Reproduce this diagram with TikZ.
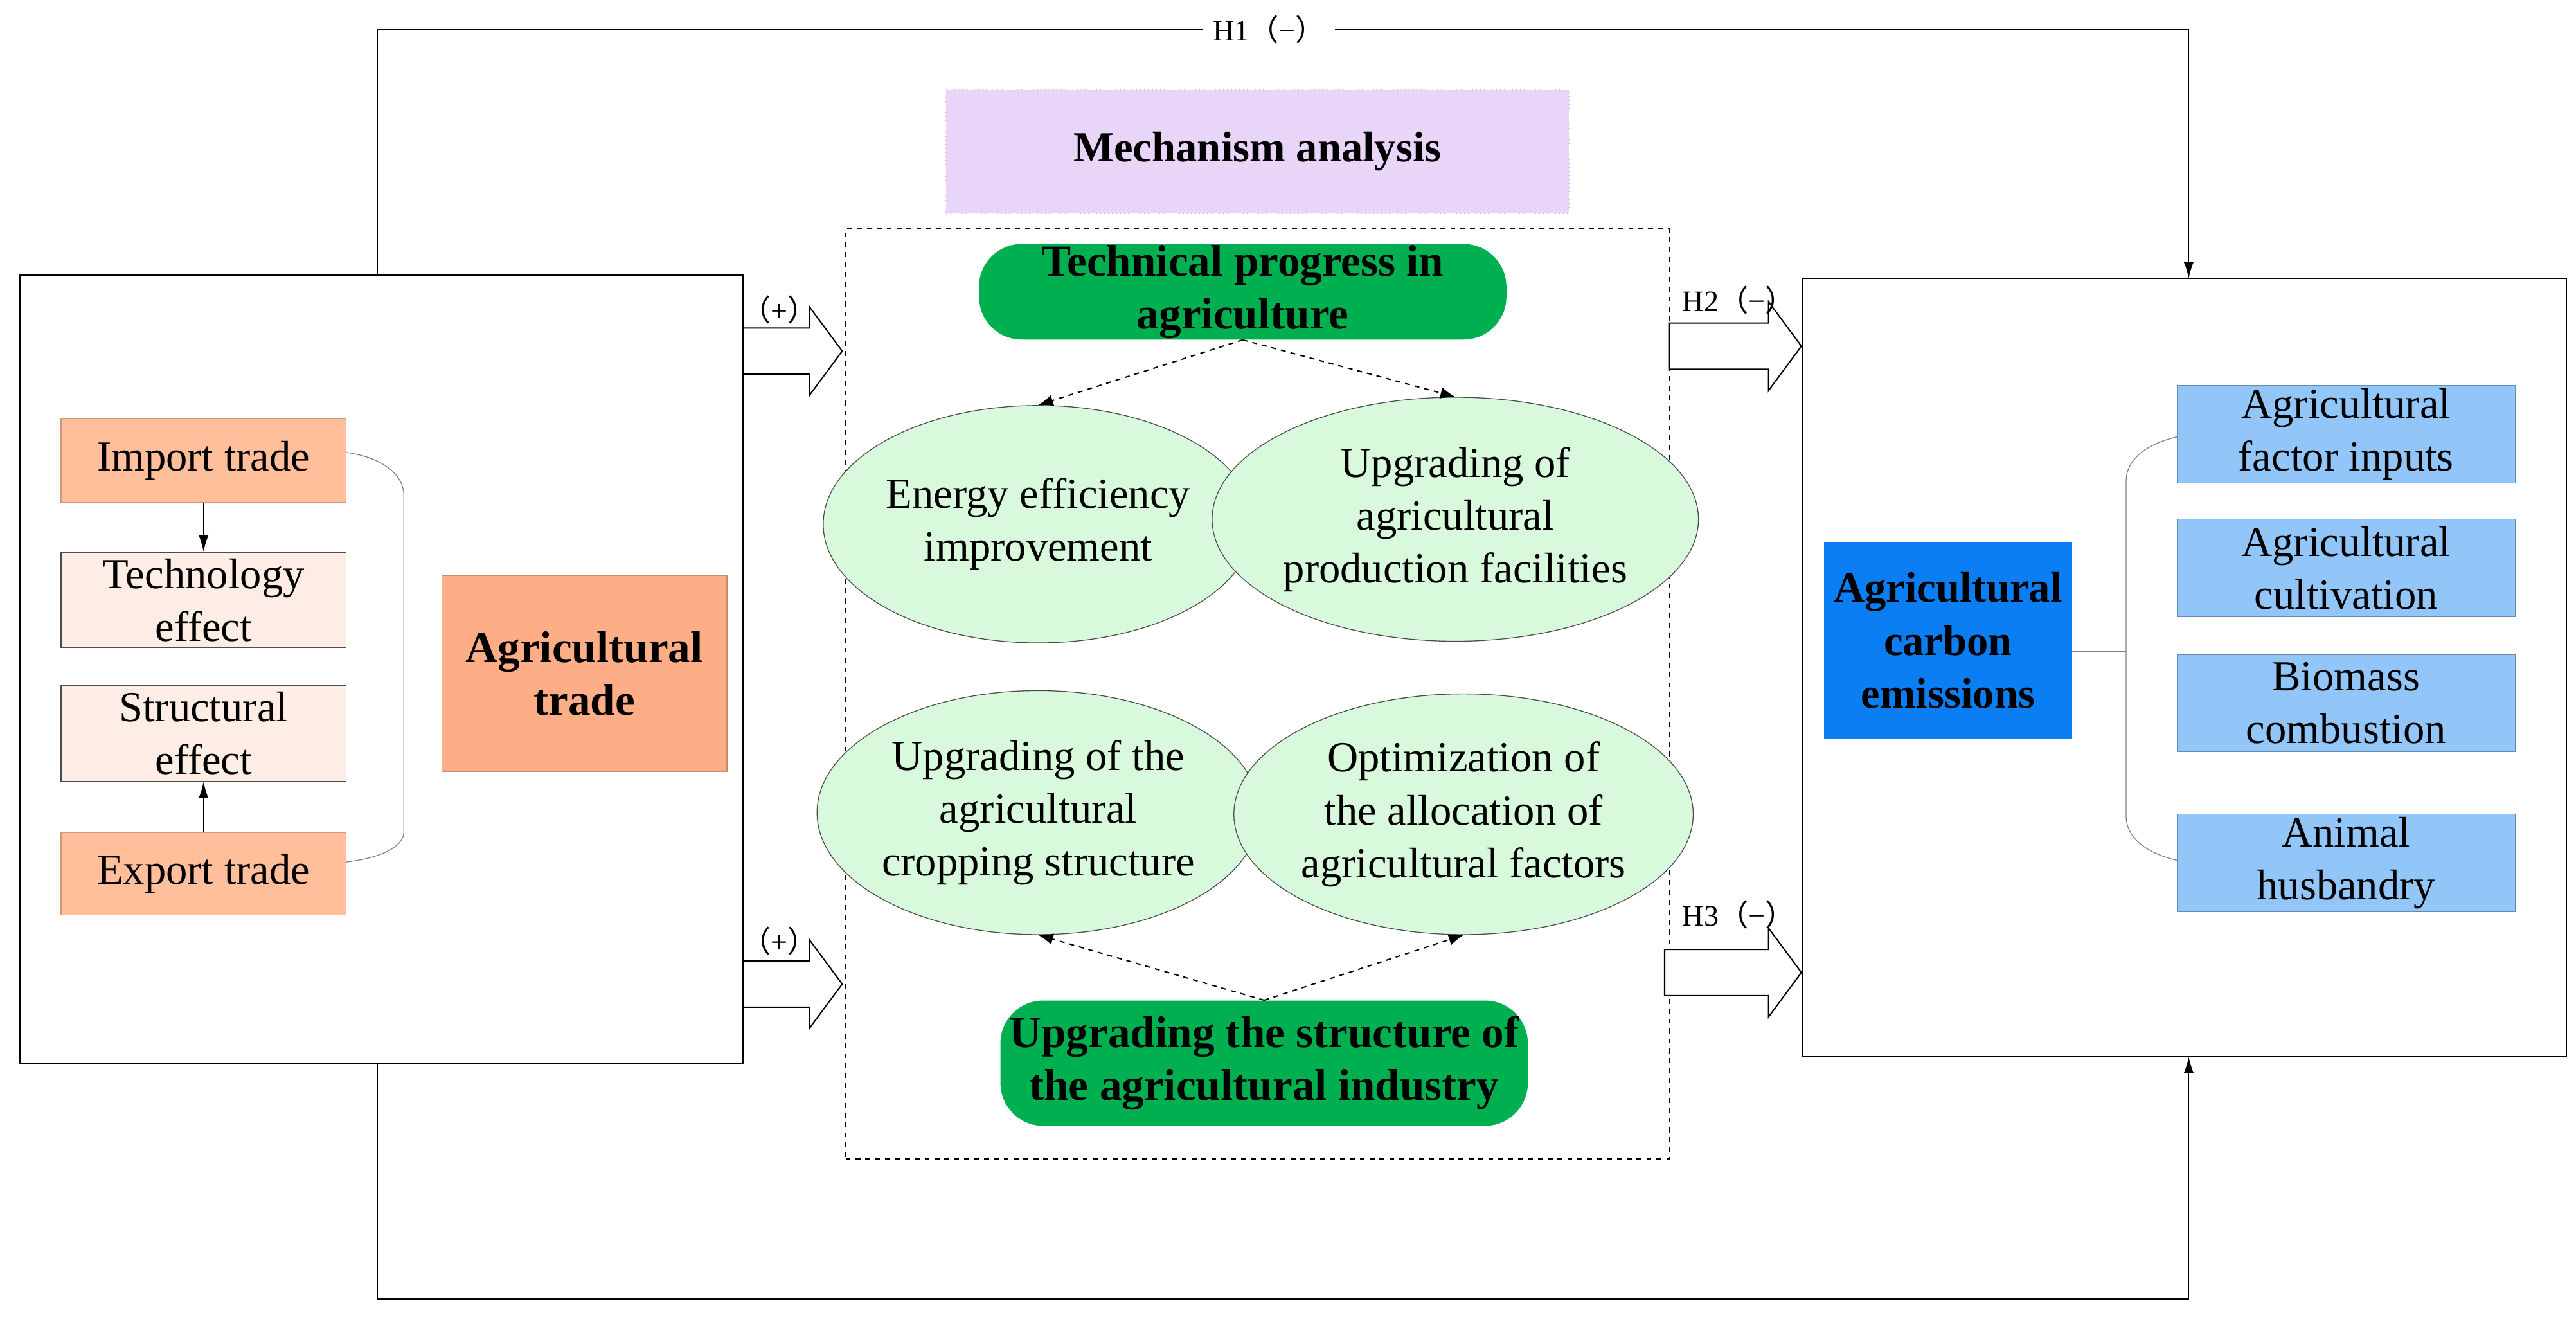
\documentclass[tikz,border=0pt]{standalone}
\usepackage{fontspec}
\setmainfont{Liberation Serif}
\newfontfamily\cjk{Noto Sans CJK SC}
\usetikzlibrary{arrows.meta,shapes.geometric}
\definecolor{sal}{HTML}{FFBF9A}
\definecolor{salL}{HTML}{FDEDE4}
\definecolor{salD}{HTML}{FDAE86}
\definecolor{gr}{HTML}{00B050}
\definecolor{grL}{HTML}{D9F9DD}
\definecolor{lil}{HTML}{E8D5F8}
\definecolor{bl}{HTML}{0A7EF2}
\definecolor{blL}{HTML}{92C6F8}
\newcommand{\hollowarr}[3]{\draw[line width=0.8pt,fill=white] (#1,#3-14)--(#2-20,#3-14)--(#2-20,#3-27)--(#2,#3)--(#2-20,#3+27)--(#2-20,#3+14)--(#1,#3+14)--cycle;}
\newcommand{\lp}{{\cjk（}}
\newcommand{\rp}{{\cjk）}}
\begin{document}
\begin{tikzpicture}[x=1pt,y=-1pt,
  txt/.style={font=\fontsize{26}{32}\selectfont,align=center,inner sep=0pt},
  box/.style={txt,draw=black!70,line width=0.5pt,rectangle},
  ell/.style={txt,ellipse,draw=black!70,line width=0.5pt,fill=grL},
  gbox/.style={txt,rounded corners=26pt,fill=gr,font=\fontsize{27}{32}\selectfont\bfseries},
  lab/.style={font=\fontsize{18}{20}\selectfont,inner sep=1pt},
  darr/.style={dashed,line width=0.8pt,-{Latex[length=9pt,width=7pt]}},
  sarr/.style={line width=0.8pt,-{Latex[length=10pt,width=6pt]}},
  brk/.style={gray,line width=0.5pt}]
\useasboundingbox (0,0) rectangle (1563,800);
% outer boxes
\node[draw,line width=0.8pt,minimum width=439pt,minimum height=478pt,inner sep=0pt] (L) at (231.5,406) {};
\node[draw,line width=0.8pt,minimum width=463pt,minimum height=472pt,inner sep=0pt] (R) at (1325.5,405) {};
\node[draw,dashed,line width=0.8pt,minimum width=500pt,minimum height=564pt,inner sep=0pt] (M) at (763,421) {};
% H1 / bottom paths
\coordinate (t1) at (229,167); \coordinate (t2) at (1328,169);
\draw[sarr] (t1) -- (229,18) -- (1328,18) -- (t2);
\node[lab,fill=white,inner sep=6pt] (h1) at (770,18) {H1\lp−\rp};
\coordinate (b1) at (229,645); \coordinate (b2) at (1328,641);
\draw[sarr] (b1) -- (229,788) -- (1328,788) -- (b2);
% mechanism
\node[fill=lil,draw=lil!80!violet,dotted,minimum width=378pt,minimum height=75pt,font=\fontsize{26}{30}\selectfont\bfseries] (mech) at (763,92) {Mechanism analysis};
% left
\node[box,fill=sal,draw=sal!80!black,minimum width=173pt,minimum height=51pt] (imp) at (123.5,279.5) {Import trade};
\node[box,fill=salL,minimum width=173pt,minimum height=58pt] (tech) at (123.5,364) {Technology\\effect};
\node[box,fill=salL,minimum width=173pt,minimum height=58pt] (str) at (123.5,445) {Structural\\effect};
\node[box,fill=sal,draw=sal!80!black,minimum width=173pt,minimum height=50pt] (exp) at (123.5,530) {Export trade};
\node[box,fill=salD,draw=salD!80!black,minimum width=173pt,minimum height=119pt,font=\fontsize{27}{32}\selectfont\bfseries] (agt) at (354.5,408.5) {Agricultural\\trade};
\draw[sarr] (imp) -- (tech);
\draw[sarr] (exp) -- (str);
\draw[brk] (imp.east) ++(0,-5) .. controls (235,278) and (245,290) .. (245,300) -- (245,505) .. controls (245,512) and (235,520) .. (210,523);
\draw[brk] (245,400) -- (279,400);
% middle
\node[gbox,minimum width=320pt,minimum height=58pt] (tp) at (754,177) {Technical progress in\\agriculture};
\node[gbox,minimum width=320pt,minimum height=76pt] (us) at (767,645) {Upgrading the structure of\\the agricultural industry};
\node[ell,minimum width=236pt,minimum height=144pt] (e1) at (630,318) {Energy efficiency\\improvement};
\node[ell,minimum width=260pt,minimum height=148pt] (e2) at (883,315) {Upgrading of\\agricultural\\production facilities};
\node[ell,minimum width=236pt,minimum height=148pt] (e3) at (630,493) {Upgrading of the\\agricultural\\cropping structure};
\node[ell,minimum width=250pt,minimum height=146pt] (e4) at (888,494) {Optimization of\\the allocation of\\agricultural factors};
\draw[darr] (tp.south) -- (e1.north);
\draw[darr] (tp.south) -- (e2.north);
\draw[darr] (us.north) -- (e3.south);
\draw[darr] (us.north) -- (e4.south);
% hollow arrows
\hollowarr{451}{511}{213}
\hollowarr{451}{511}{597}
\hollowarr{1013}{1093}{210}
\hollowarr{1010}{1093}{590}
\node[lab] (p1) at (473,188) {\lp+\rp};
\node[lab] (p2) at (473,571) {\lp+\rp};
\node[lab] (h2) at (1055,182) {H2\lp−\rp};
\node[lab] (h3) at (1055,555) {H3\lp−\rp};
% right
\node[box,fill=bl,draw=bl,minimum width=150pt,minimum height=119pt,font=\fontsize{26}{32}\selectfont\bfseries] (ace) at (1182,388.5) {Agricultural\\carbon\\emissions};
\node[box,fill=blL,draw=blL!70!black,minimum width=205pt,minimum height=59pt] (r1) at (1423.5,263.5) {Agricultural\\factor inputs};
\node[box,fill=blL,draw=blL!70!black,minimum width=205pt,minimum height=59pt] (r2) at (1423.5,344.5) {Agricultural\\cultivation};
\node[box,fill=blL,draw=blL!70!black,minimum width=205pt,minimum height=59pt] (r3) at (1423.5,426.5) {Biomass\\combustion};
\node[box,fill=blL,draw=blL!70!black,minimum width=205pt,minimum height=59pt] (r4) at (1423.5,523.5) {Animal\\husbandry};
\draw[brk] (1321,265) .. controls (1300,270) and (1290,280) .. (1290,292) -- (1290,495) .. controls (1290,507) and (1300,517) .. (1321,522);
\draw[brk] (ace.east) ++(0,6.5) -- (1290,395);
\end{tikzpicture}
\end{document}
